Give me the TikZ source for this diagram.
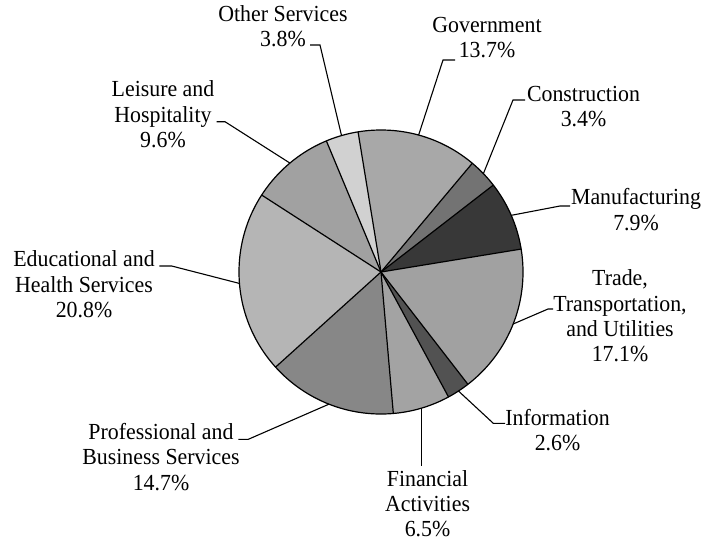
\documentclass[tikz,border=0pt]{standalone}
\usepackage{fontspec}
\setmainfont{Liberation Serif}[FakeStretch=0.95]
\begin{document}
\begin{tikzpicture}[x=1pt,y=1pt,
  slice/.style={draw=black,line width=1.2pt,line join=round},
  leader/.style={draw=black,line width=1.1pt},
  lbl/.style={inner sep=0pt,align=center,anchor=base,font=\fontsize{23}{25.3}\selectfont}]
\useasboundingbox (0,0) rectangle (706,-544);
\definecolor{cGov}{gray}{0.66}
\definecolor{cCon}{gray}{0.45}
\definecolor{cMan}{gray}{0.22}
\definecolor{cTra}{gray}{0.63}
\definecolor{cInf}{gray}{0.32}
\definecolor{cFin}{gray}{0.64}
\definecolor{cPro}{gray}{0.53}
\definecolor{cEdu}{gray}{0.71}
\definecolor{cLei}{gray}{0.63}
\definecolor{cOth}{gray}{0.82}
\coordinate (c) at (381,-272);
\def\R{142}
% slices (clockwise)
\fill[cGov] (c) -- ++(99.3:\R) arc[start angle=99.3,end angle=49.98,radius=\R] -- cycle;
\fill[cCon] (c) -- ++(49.98:\R) arc[start angle=49.98,end angle=37.74,radius=\R] -- cycle;
\fill[cMan] (c) -- ++(37.74:\R) arc[start angle=37.74,end angle=9.30,radius=\R] -- cycle;
\fill[cTra] (c) -- ++(9.30:\R) arc[start angle=9.30,end angle=-52.26,radius=\R] -- cycle;
\fill[cInf] (c) -- ++(-52.26:\R) arc[start angle=-52.26,end angle=-61.62,radius=\R] -- cycle;
\fill[cFin] (c) -- ++(-61.62:\R) arc[start angle=-61.62,end angle=-85.02,radius=\R] -- cycle;
\fill[cPro] (c) -- ++(-85.02:\R) arc[start angle=-85.02,end angle=-137.94,radius=\R] -- cycle;
\fill[cEdu] (c) -- ++(-137.94:\R) arc[start angle=-137.94,end angle=-212.82,radius=\R] -- cycle;
\fill[cLei] (c) -- ++(-212.82:\R) arc[start angle=-212.82,end angle=-247.38,radius=\R] -- cycle;
\fill[cOth] (c) -- ++(-247.38:\R) arc[start angle=-247.38,end angle=-260.7,radius=\R] -- cycle;
\foreach \a in {99.3,49.98,37.74,9.30,-52.26,-61.62,-85.02,-137.94,-212.82,-247.38}
  \draw[slice] (c) -- ++(\a:\R);
\draw[slice] (c) circle[radius=\R];
% labels (anchored at the baseline of the last line)
\node[lbl] (tOth) at (283,-46.7) {Other Services\\3.8\%};
\node[lbl] (tGov) at (487,-57.3) {Government\\13.7\%};
\node[lbl] (tCon) at (583.5,-126.7) {Construction\\3.4\%};
\node[lbl] (tMan) at (636,-230) {Manufacturing\\7.9\%};
\node[lbl] (tTra) at (620,-361.7) {Trade,\\Transportation,\\and Utilities\\17.1\%};
\node[lbl] (tInf) at (557.5,-450.7) {Information\\2.6\%};
\node[lbl] (tFin) at (427.5,-536.7) {Financial\\Activities\\6.5\%};
\node[lbl] (tPro) at (161,-490) {Professional and\\Business Services\\14.7\%};
\node[lbl] (tEdu) at (84,-317.3) {Educational and\\Health Services\\20.8\%};
\node[lbl] (tLei) at (163,-147.3) {Leisure and\\Hospitality\\9.6\%};
% leader anchor points
\path (c) ++(74.64:\R) coordinate (eGov);
\path (c) ++(43.86:\R) coordinate (eCon);
\path (c) ++(23.52:\R) coordinate (eMan);
\path (c) ++(-21.48:\R) coordinate (eTra);
\path (c) ++(-56.94:\R) coordinate (eInf);
\path (c) ++(-73.32:\R) coordinate (eFin);
\path (c) ++(-111.48:\R) coordinate (ePro);
\path (c) ++(-175.38:\R) coordinate (eEdu);
\path (c) ++(-230.1:\R) coordinate (eLei);
\path (c) ++(-253.86:\R) coordinate (eOth);
\coordinate (kGov) at (443,-60);   \coordinate (sGov) at (455,-60);
\coordinate (kCon) at (513,-100);  \coordinate (sCon) at (525,-100);
\coordinate (kMan) at (560,-206);  \coordinate (sMan) at (570,-206);
\coordinate (kTra) at (548,-309);  \coordinate (sTra) at (553,-309);
\coordinate (kInf) at (493.3,-423.3); \coordinate (sInf) at (505,-423.3);
\coordinate (sFin) at (eFin |- 0,-466);
\coordinate (kPro) at (248.3,-439.3); \coordinate (sPro) at (238.3,-439.3);
\coordinate (kEdu) at (171.7,-266); \coordinate (sEdu) at (159.3,-266);
\coordinate (kLei) at (225,-121.7); \coordinate (sLei) at (216.7,-121.7);
\coordinate (kOth) at (320,-45);   \coordinate (sOth) at (310,-45);
\draw[leader] (eGov) -- (kGov) -- (sGov);
\draw[leader] (eCon) -- (kCon) -- (sCon);
\draw[leader] (eMan) -- (kMan) -- (sMan);
\draw[leader] (eTra) -- (kTra) -- (sTra);
\draw[leader] (eInf) -- (kInf) -- (sInf);
\draw[leader] (eFin) -- (sFin);
\draw[leader] (ePro) -- (kPro) -- (sPro);
\draw[leader] (eEdu) -- (kEdu) -- (sEdu);
\draw[leader] (eLei) -- (kLei) -- (sLei);
\draw[leader] (eOth) -- (kOth) -- (sOth);
\end{tikzpicture}
\end{document}
